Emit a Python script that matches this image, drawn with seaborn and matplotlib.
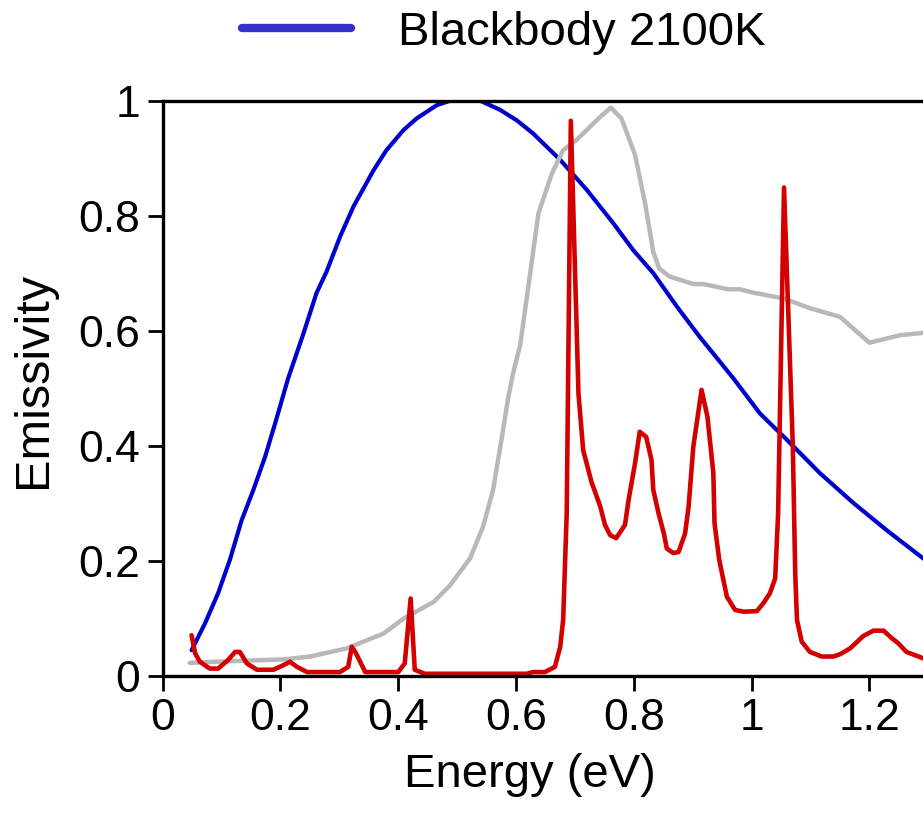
import matplotlib
matplotlib.use("Agg")
import matplotlib.pyplot as plt
import seaborn as sns
import pandas as pd

# ---- data ----
bb_x = [0.049, 0.072, 0.094, 0.114, 0.134, 0.154, 0.174, 0.191, 0.213, 0.239, 0.261, 0.278,
        0.301, 0.324, 0.358, 0.380, 0.409, 0.431, 0.465, 0.488, 0.539, 0.573, 0.601, 0.629,
        0.658, 0.675, 0.720, 0.765, 0.799, 0.833, 0.873, 0.912, 0.969, 1.014, 1.060, 1.116,
        1.173, 1.229, 1.291, 1.300]
bb_y = [0.044, 0.091, 0.143, 0.201, 0.270, 0.323, 0.381, 0.439, 0.517, 0.595, 0.665, 0.702,
        0.763, 0.816, 0.879, 0.914, 0.949, 0.969, 0.992, 1.000, 1.000, 0.984, 0.966, 0.943,
        0.914, 0.897, 0.845, 0.787, 0.740, 0.700, 0.642, 0.589, 0.517, 0.456, 0.410, 0.352,
        0.300, 0.253, 0.204, 0.197]

gray_x = [0.046, 0.092, 0.205, 0.250, 0.312, 0.375, 0.409, 0.460, 0.488, 0.522, 0.544, 0.561,
          0.576, 0.587, 0.595, 0.607, 0.624, 0.638, 0.661, 0.680, 0.703, 0.743, 0.761, 0.779,
          0.802, 0.819, 0.833, 0.843, 0.861, 0.901, 0.918, 0.960, 0.980, 1.003, 1.054, 1.099,
          1.150, 1.200, 1.252, 1.300]
gray_y = [0.022, 0.024, 0.028, 0.033, 0.047, 0.073, 0.099, 0.128, 0.157, 0.204, 0.259, 0.323,
          0.415, 0.485, 0.526, 0.575, 0.700, 0.804, 0.874, 0.914, 0.932, 0.972, 0.988, 0.969,
          0.906, 0.822, 0.737, 0.708, 0.694, 0.681, 0.681, 0.672, 0.672, 0.666, 0.656, 0.639,
          0.624, 0.579, 0.592, 0.597]

red_x = [0.049, 0.055, 0.063, 0.080, 0.094, 0.111, 0.123, 0.131, 0.143, 0.160, 0.188, 0.205,
         0.216, 0.228, 0.245, 0.301, 0.315, 0.321, 0.327, 0.344, 0.400, 0.411, 0.421, 0.428,
         0.445, 0.618, 0.629, 0.649, 0.666, 0.675, 0.680, 0.686, 0.693, 0.706, 0.714, 0.728,
         0.743, 0.751, 0.760, 0.770, 0.785, 0.791, 0.802, 0.810, 0.821, 0.830, 0.833, 0.842,
         0.851, 0.856, 0.867, 0.876, 0.887, 0.893, 0.901, 0.915, 0.925, 0.935, 0.937, 0.945,
         0.958, 0.972, 0.986, 1.009, 1.020, 1.031, 1.040, 1.045, 1.055, 1.070, 1.074, 1.077,
         1.085, 1.099, 1.119, 1.139, 1.150, 1.167, 1.190, 1.207, 1.224, 1.238, 1.249, 1.263,
         1.291, 1.300]
red_y = [0.070, 0.039, 0.024, 0.012, 0.012, 0.027, 0.041, 0.041, 0.021, 0.010, 0.010, 0.018,
         0.024, 0.015, 0.006, 0.006, 0.015, 0.050, 0.041, 0.006, 0.006, 0.021, 0.134, 0.010,
         0.003, 0.003, 0.006, 0.006, 0.015, 0.050, 0.097, 0.282, 0.965, 0.490, 0.392, 0.337,
         0.294, 0.262, 0.244, 0.239, 0.262, 0.305, 0.369, 0.424, 0.415, 0.375, 0.323, 0.282,
         0.247, 0.221, 0.213, 0.215, 0.247, 0.294, 0.398, 0.497, 0.450, 0.352, 0.265, 0.201,
         0.137, 0.114, 0.111, 0.112, 0.126, 0.143, 0.169, 0.282, 0.849, 0.398, 0.178, 0.097,
         0.059, 0.041, 0.033, 0.033, 0.037, 0.047, 0.069, 0.078, 0.078, 0.065, 0.056, 0.041,
         0.030, 0.028]

x_ticks = [0, 0.2, 0.4, 0.6, 0.8, 1.0, 1.2]
x_tick_labels = ["0", "0.2", "0.4", "0.6", "0.8", "1", "1.2"]
y_ticks = [0, 0.2, 0.4, 0.6, 0.8, 1.0]
y_tick_labels = ["0", "0.2", "0.4", "0.6", "0.8", "1"]
legend_label = "Blackbody 2100K"

# ---- style ----
sns.set_style("ticks")
plt.rcParams["font.family"] = ["Liberation Sans", "DejaVu Sans"]
plt.rcParams["text.color"] = "black"
plt.rcParams["axes.labelcolor"] = "black"
plt.rcParams["xtick.color"] = "black"
plt.rcParams["ytick.color"] = "black"

W, H = 923, 817
fig = plt.figure(figsize=(W / 100, H / 100), dpi=100)
ax = fig.add_axes([162.7 / W, 1 - 675.5 / H, (928.3 - 162.7) / W, (675.5 - 100.7) / H])

bb = pd.DataFrame({"x": bb_x, "y": bb_y})
gr = pd.DataFrame({"x": gray_x, "y": gray_y})
rd = pd.DataFrame({"x": red_x, "y": red_y})

sns.lineplot(data=bb, x="x", y="y", ax=ax, color="#0000CC", lw=3.0, estimator=None,
             label=legend_label)
sns.lineplot(data=gr, x="x", y="y", ax=ax, color="#B8B8B8", lw=3.2, estimator=None, legend=False)
sns.lineplot(data=rd, x="x", y="y", ax=ax, color="#D40000", lw=3.3, estimator=None, legend=False)

if ax.get_legend() is not None:
    ax.get_legend().remove()

ax.set_xlim(0, 1.3)
ax.set_ylim(0, 1.0)
ax.set_xticks(x_ticks)
ax.set_xticklabels(x_tick_labels)
ax.set_yticks(y_ticks)
ax.set_yticklabels(y_tick_labels)
ax.tick_params(axis="both", direction="out", length=11, width=2, labelsize=32,
               colors="black", labelcolor="black", pad=5)
for s in ax.spines.values():
    s.set_linewidth(2.4)
    s.set_color("black")

ax.set_xlabel("Energy (eV)", fontsize=34, labelpad=10, color="black")
ax.set_ylabel("Emissivity", fontsize=35, labelpad=16, color="black")
ax.xaxis.label.set_x(0.480)
ax.yaxis.label.set_y(0.514)

handles, labels = ax.get_legend_handles_labels()
leg = fig.legend(handles, labels, loc="center", bbox_to_anchor=(0.546, 1 - 33 / H),
                 frameon=False, fontsize=34, handlelength=2.3, handletextpad=1.0, borderpad=0,
                 labelcolor="black")
for ln in leg.get_lines():
    ln.set_linewidth(6)
    ln.set_color("#3333CC")

fig.savefig("out.png", dpi=100)
